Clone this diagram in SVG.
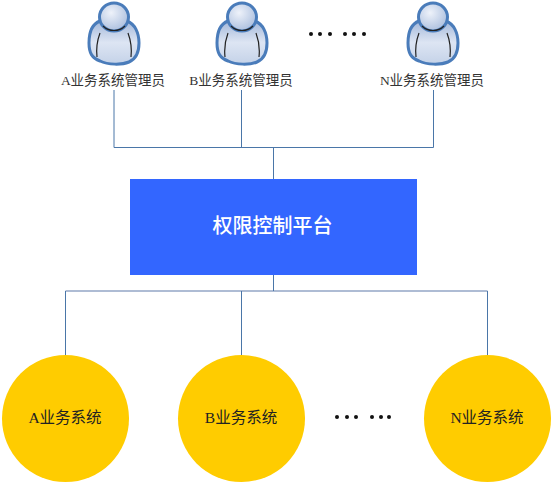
<svg xmlns="http://www.w3.org/2000/svg" width="555" height="486" viewBox="0 0 555 486">
<style>
.lbl{font-family:"Liberation Serif","Noto Sans CJK SC",serif;font-size:13.500px;fill:#333;text-anchor:middle}
.sys{font-family:"Liberation Serif","Noto Sans CJK SC",serif;font-size:15.500px;fill:#222;text-anchor:middle}
.title{font-family:"Noto Sans CJK SC",sans-serif;font-size:20px;font-weight:500;fill:#fff;text-anchor:middle}
.conn{fill:none;stroke:#4a76a8;stroke-width:1}
.soft{fill:none;stroke:#aebcd4;stroke-width:2}
.circle{fill:#ffcc00}
.dot{fill:#111}
.out{stroke:#4a7cba;stroke-width:3}
.in{fill:none;stroke:#222;stroke-width:1.200}
</style>
<defs>
<radialGradient id="hg" cx="0.4" cy="0.35" r="0.7"><stop offset="0" stop-color="#eef2fa"/><stop offset="1" stop-color="#a9bddd"/></radialGradient>
<linearGradient id="bg" x1="0" y1="0" x2="0" y2="1"><stop offset="0" stop-color="#a3b8da"/><stop offset="0.5" stop-color="#dde5f3"/><stop offset="1" stop-color="#c4d2e8"/></linearGradient>
<g id="person">
<path class="out" fill="url(#bg)" d="M-14 21C-22 24-25 33-25 43C-25 53-22 58-14 61C-6 65 8 65 15 62C22 59 25 53 25 43C25 33 21 24 13 21Z"/>
<path class="in" d="M-14 33C-17 41-18 48-17 57M14 33C17 41 18 48 17 57"/>
<ellipse class="out" fill="url(#hg)" cx="0" cy="17" rx="14.500" ry="14"/>
<path class="in" d="M-11 26C-5 32 5 32 11 26"/>
</g>
</defs>
<rect width="555" height="486" fill="#fff"/>
<g id="connectors">
<path class="conn" d="M114 90V147.500H433.500V90M241.500 90V147.500M273.500 147.500V179"/>
<path class="soft" d="M65.500 291H487.500"/>
<path class="conn" d="M273.500 275V291M65.500 355V291M487.500 355V291M241.500 291V355"/>
</g>
<g id="admin-a"><use href="#person" x="114" y="0"/><text class="lbl" x="113" y="85">A业务系统管理员</text></g>
<g id="admin-b"><use href="#person" x="242" y="0"/><text class="lbl" x="241" y="85">B业务系统管理员</text></g>
<g id="admin-dots"><circle class="dot" cx="311" cy="34" r="2"/><circle class="dot" cx="320" cy="34" r="2"/><circle class="dot" cx="330" cy="34" r="2"/><circle class="dot" cx="345" cy="34" r="2"/><circle class="dot" cx="354" cy="34" r="2"/><circle class="dot" cx="364" cy="34" r="2"/></g>
<g id="admin-n"><use href="#person" x="433" y="0"/><text class="lbl" x="432" y="85">N业务系统管理员</text></g>
<g id="platform"><rect x="130" y="179" width="287" height="96" fill="#3366ff"/><text class="title" x="272.500" y="233">权限控制平台</text></g>
<g id="sys-a"><circle class="circle" cx="65.500" cy="418.500" r="63.500"/><text class="sys" x="65" y="423">A业务系统</text></g>
<g id="sys-b"><circle class="circle" cx="241.500" cy="418.500" r="63.500"/><text class="sys" x="241" y="423">B业务系统</text></g>
<g id="sys-dots"><circle class="dot" cx="337" cy="417" r="2"/><circle class="dot" cx="347" cy="417" r="2"/><circle class="dot" cx="356" cy="417" r="2"/><circle class="dot" cx="372" cy="417" r="2"/><circle class="dot" cx="381" cy="417" r="2"/><circle class="dot" cx="389" cy="417" r="2"/></g>
<g id="sys-n"><circle class="circle" cx="487.500" cy="418.500" r="63.500"/><text class="sys" x="487" y="423">N业务系统</text></g>
</svg>
